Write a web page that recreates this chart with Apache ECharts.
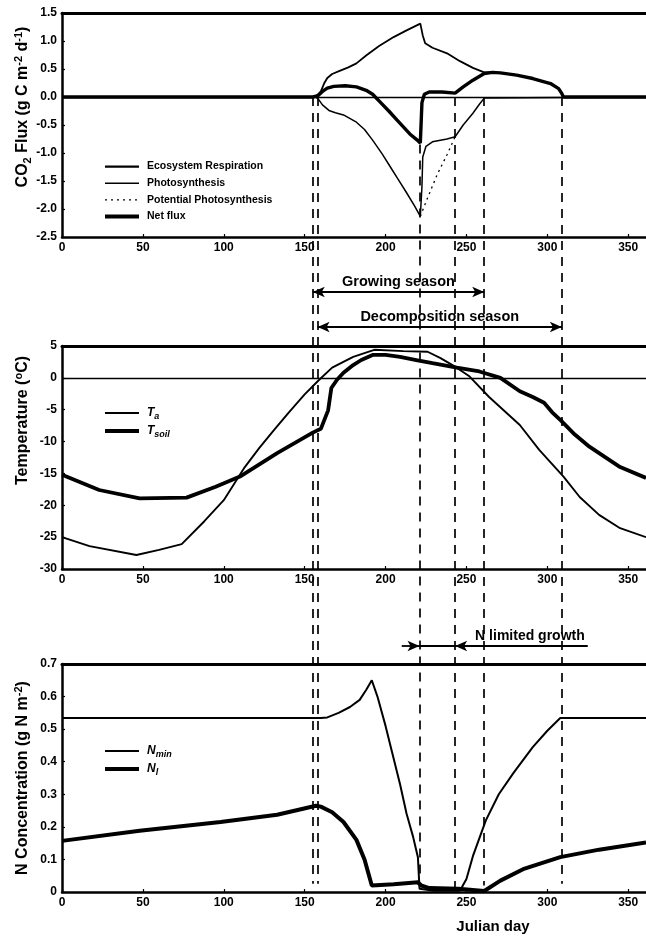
<!DOCTYPE html>
<html>
<head>
<meta charset="utf-8">
<script src="https://cdn.jsdelivr.net/npm/echarts@6/dist/echarts.min.js"></script>
<style>
html, body { margin: 0; padding: 0; background: #fff; }
#chart { width: 646px; height: 939px; }
</style>
</head>
<body>
<div id="chart"></div>
<script>
// ---- data: [Julian day, value] ----
var respiration = [[0,0],[155,0],[158,0.04],[160,0.1],[162,0.24],[164,0.34],[167,0.41],[172,0.47],[177,0.53],[182,0.6],[188,0.74],[196,0.91],[205,1.07],[213,1.19],[221.5,1.31],[223,1.1],[224.5,0.96],[229,0.88],[238,0.78],[246,0.64],[254,0.52],[261,0.44],[266,0.44],[271,0.43],[281,0.39],[291,0.33],[302,0.24],[307,0.15],[309,0.06],[310,0],[361,0]];
var photosynthesis = [[0,0],[157,0],[159,-0.06],[161,-0.14],[165,-0.24],[169,-0.28],[174,-0.32],[182,-0.45],[187,-0.58],[192,-0.77],[198,-1.02],[203,-1.25],[208,-1.48],[213,-1.71],[218,-1.95],[221.5,-2.13],[222.5,-1.6],[223,-1.07],[225,-0.88],[229,-0.8],[238,-0.75],[243,-0.71],[248,-0.5],[254,-0.29],[258,-0.13],[261,-0.02],[262,0],[361,0]];
var potentialPhoto = [[221.5,-2.13],[226,-1.8],[232,-1.38],[238,-1.03],[243,-0.71]];
var netFlux = [[0,0],[155,0],[158,0.02],[161,0.1],[164,0.16],[168,0.19],[175,0.2],[182,0.18],[188,0.12],[192,0.05],[197,-0.1],[202,-0.25],[207,-0.41],[215,-0.66],[220,-0.78],[221.5,-0.82],[222.5,-0.1],[224,0.05],[227,0.09],[235,0.09],[243,0.07],[248,0.18],[254,0.3],[261,0.42],[266,0.44],[271,0.43],[281,0.39],[291,0.33],[302,0.24],[307,0.15],[309,0.06],[310,0],[361,0]];

var airTemp = [[0,-25.0],[17,-26.4],[46,-27.8],[60,-27.0],[74,-26.1],[88,-22.5],[100,-19.2],[113,-14],[122,-11],[131,-8.2],[140,-5.5],[150,-2.6],[159,-0.3],[167,1.6],[180,3.3],[193,4.4],[211,4.2],[226,4.1],[234,3.1],[244,1.6],[252,0.2],[264,-3],[283,-7.4],[295,-11.3],[310,-15.5],[320,-18.7],[332,-21.5],[345,-23.6],[361,-25.0]];
var soilTemp = [[0,-15.2],[23,-17.6],[48,-18.9],[77,-18.8],[95,-17.1],[110,-15.5],[133,-11.8],[155,-8.6],[160,-8.0],[164.5,-5.1],[166.5,-1.6],[170,-0.3],[174,0.8],[180,2],[185,2.8],[192,3.6],[200,3.6],[209,3.3],[219,2.8],[229,2.3],[244,1.6],[258,1.0],[271,0],[283,-2.1],[291,-3.0],[298,-3.9],[303,-5.4],[308,-6.6],[317,-8.9],[326,-10.8],[345,-14],[361,-15.7]];

var nMineral = [[0,0.534],[160,0.534],[164,0.536],[171,0.55],[178,0.568],[184,0.59],[188,0.62],[191.5,0.65],[195,0.6],[200,0.51],[205,0.41],[209,0.33],[213,0.24],[217,0.17],[220,0.107],[221,0.01],[230,0.004],[246,0.004],[250,0.04],[254,0.11],[262,0.22],[270,0.3],[279,0.365],[291,0.445],[300,0.495],[308,0.534],[361,0.534]];
var nLeaf = [[0,0.157],[48,0.188],[98,0.215],[133,0.237],[157,0.265],[160,0.262],[167,0.245],[174,0.215],[182,0.16],[187,0.1],[191.5,0.02],[205,0.024],[220,0.03],[222,0.02],[227,0.012],[245,0.01],[261,0.003],[271,0.035],[285,0.07],[308,0.107],[332,0.13],[361,0.152]];

// season boundaries (Julian day) drawn as dashed verticals
var seasonDays = [155, 158, 221, 243, 261, 309];
var growingSeason = [155, 261];
var decompSeason = [158, 309];
var nLimited = [221, 243];

// ---- layout ----
var FONT = '"Liberation Sans", Arial, Helvetica, sans-serif';
var LEFT = 62, RIGHT = 0;
var grids = [
  { left: LEFT, right: RIGHT, top: 13, height: 224 },
  { left: LEFT, right: RIGHT, top: 346, height: 223 },
  { left: LEFT, right: RIGHT, top: 664, height: 228 },
  { left: LEFT, right: RIGHT, top: 0, height: 939 }   // overlay for annotations
];

// line widths per series (also used for the legend keys)
var widths = {
  'Ecosystem Respiration': 1.8, 'Photosynthesis': 1.5, 'Potential Photosynthesis': 1.3, 'Net flux': 3.4,
  Ta: 1.9, Tsoil: 3.8, Nmin: 2, Nl: 4
};
var legendWidths = {
  'Ecosystem Respiration': 2.4, 'Photosynthesis': 1.4, 'Potential Photosynthesis': 1.2, 'Net flux': 4,
  Ta: 1.8, Tsoil: 4, Nmin: 1.8, Nl: 4
};

function bottomX(gi, extra) {
  var a = {
    type: 'value', gridIndex: gi, min: 0, max: 361, interval: 50, position: 'bottom',
    axisLine: { onZero: false, lineStyle: { color: '#000', width: 2.5 } },
    axisTick: { inside: true, length: 3, lineStyle: { color: '#000', width: 1.2 } },
    axisLabel: { color: '#000', fontFamily: FONT, fontWeight: 'bold', fontSize: 12, margin: 5, showMaxLabel: false },
    splitLine: { show: false }
  };
  return Object.assign(a, extra || {});
}
function topX(gi) {
  return {
    type: 'value', gridIndex: gi, min: 0, max: 361, position: 'top',
    axisLine: { onZero: false, lineStyle: { color: '#000', width: 3 } },
    axisTick: { show: false }, axisLabel: { show: false }, splitLine: { show: false }
  };
}
function leftY(gi, min, max, step, fmt, name, nameRich, namePad) {
  return {
    type: 'value', gridIndex: gi, min: min, max: max, interval: step,
    axisLine: { show: true, onZero: false, lineStyle: { color: '#000', width: 2.5 } },
    axisTick: { show: true, inside: true, length: 3, lineStyle: { color: '#000', width: 1.2 } },
    axisLabel: { color: '#000', fontFamily: FONT, fontWeight: 'bold', fontSize: 12, margin: 5, formatter: fmt },
    splitLine: { show: false },
    name: name, nameLocation: 'middle', nameGap: 29, nameMoveOverlap: false,
    nameTextStyle: { color: '#000', padding: namePad, rich: nameRich }
  };
}

var nameRich = {
  a: { fontFamily: FONT, fontWeight: 'bold', fontSize: 16, color: '#000' },
  b: { fontFamily: FONT, fontWeight: 'bold', fontSize: 11, color: '#000', padding: [9, 0, 0, 0] },
  c: { fontFamily: FONT, fontWeight: 'bold', fontSize: 11, color: '#000', padding: [0, 0, 9, 0] }
};

var zeroLine = {
  silent: true, symbol: 'none', animation: false,
  label: { show: false },
  lineStyle: { color: '#000', width: 1.3, type: 'solid' },
  data: [{ yAxis: 0 }]
};

function lineSeries(name, data, xi, yi, type, extra) {
  var s = {
    name: name, type: 'line', data: data, xAxisIndex: xi, yAxisIndex: yi,
    symbol: 'none', showSymbol: false, smooth: false,
    lineStyle: { color: '#000', width: widths[name], type: type || 'solid' },
    itemStyle: { color: '#000' }
  };
  return Object.assign(s, extra || {});
}

var legendNames = {
  Ta: '{i|T}{s|a}', Tsoil: '{i|T}{s|soil}', Nmin: '{i|N}{s|min}', Nl: '{i|N}{s|l}'
};
var legendRich = {
  i: { fontFamily: FONT, fontStyle: 'italic', fontWeight: 'bold', fontSize: 12, color: '#000' },
  s: { fontFamily: FONT, fontStyle: 'italic', fontWeight: 'bold', fontSize: 9, color: '#000', padding: [7, 0, 0, 0] }
};
function legend(names, top, gap, rich) {
  return {
    data: names.map(function (n) {
      return { name: n, lineStyle: { width: legendWidths[n], color: '#000' } };
    }),
    orient: 'vertical', left: 98, top: top,
    itemWidth: 34, itemHeight: 14, itemGap: gap, selectedMode: false,
    itemStyle: { opacity: 0, borderWidth: 0 },
    formatter: rich ? function (n) { return legendNames[n]; } : null,
    textStyle: { fontFamily: FONT, fontWeight: 'bold', fontSize: 10.5, color: '#000', padding: [0, 0, 0, 3], rich: rich ? legendRich : undefined }
  };
}

var option = {
  animation: false,
  backgroundColor: '#fff',
  grid: grids,
  legend: [
    legend(['Ecosystem Respiration', 'Photosynthesis', 'Potential Photosynthesis', 'Net flux'], 156, 5.4, false),
    legend(['Ta', 'Tsoil'], 402, 4, true),
    legend(['Nmin', 'Nl'], 740, 4, true)
  ],
  xAxis: [
    bottomX(0), topX(0),
    bottomX(1), topX(1),
    bottomX(2, {
      name: 'Julian day', nameLocation: 'middle', nameGap: 27,
      nameTextStyle: { color: '#000', fontFamily: FONT, fontWeight: 'bold', fontSize: 15, padding: [0, 0, 0, 278] }
    }), topX(2),
    { type: 'value', gridIndex: 3, min: 0, max: 361, show: false }
  ],
  yAxis: [
    leftY(0, -2.5, 1.5, 0.5, function (v) { return v.toFixed(1); },
      '{a|CO}{b|2}{a| Flux (g C m}{c|-2}{a| d}{c|-1}{a|)}', nameRich, [0, 0, 0, 36]),
    leftY(1, -30, 5, 5, function (v) { return String(v); },
      '{a|Temperature (}{c|o}{a|C)}', nameRich, [0, 0, 0, 74]),
    leftY(2, 0, 0.7, 0.1, function (v) { return v === 0 ? '0' : v.toFixed(1); },
      '{a|N Concentration (g N m}{c|-2}{a|)}', nameRich, [0, 0, 0, 0]),
    { type: 'value', gridIndex: 3, min: 0, max: 939, inverse: true, show: false }
  ],
  series: [
    lineSeries('Ecosystem Respiration', respiration, 0, 0, 'solid', { markLine: zeroLine }),
    lineSeries('Photosynthesis', photosynthesis, 0, 0),
    lineSeries('Potential Photosynthesis', potentialPhoto, 0, 0, [2, 4]),
    lineSeries('Net flux', netFlux, 0, 0),
    lineSeries('Ta', airTemp, 2, 1, 'solid', { markLine: zeroLine }),
    lineSeries('Tsoil', soilTemp, 2, 1),
    lineSeries('Nmin', nMineral, 4, 2),
    lineSeries('Nl', nLeaf, 4, 2),
    { id: 'annot', type: 'line', data: [], xAxisIndex: 6, yAxisIndex: 3, symbol: 'none' }
  ]
};

var chart = echarts.init(document.getElementById('chart'));
chart.setOption(option);

// ---- annotations: rows taken from the panels' own scales ----
function row(axis, v) { return chart.convertToPixel({ yAxisIndex: axis }, v); }
var startFlux = [0, 0, -0.85, 0, 0, 0];
var endN = [0.025, 0.025, 0.05, 0.01, 0.02, 0.025];
var dashed = { color: '#000', width: 1.7, type: [9, 7] };
var solid = { color: '#000', width: 1.8, type: 'solid' };
var annotLabel = { show: true, color: '#000', fontFamily: FONT, fontWeight: 'bold', fontSize: 14.5, distance: 3 };

var marks = seasonDays.map(function (d, i) {
  return [
    { coord: [d, row(0, startFlux[i])], symbol: 'none', lineStyle: dashed, label: { show: false } },
    { coord: [d, row(2, endN[i])], symbol: 'none' }
  ];
});

var growRow = row(0, -2.5) + 55;
var decompRow = row(1, 5) - 19;
var nLimRow = row(2, 0.7) - 18;

marks.push([
  { coord: [growingSeason[0], growRow], symbol: 'arrow', lineStyle: solid,
    label: Object.assign({ formatter: 'Growing season', position: 'insideMiddleTop' }, annotLabel) },
  { coord: [growingSeason[1], growRow], symbol: 'arrow' }
]);
marks.push([
  { coord: [decompSeason[0], decompRow], symbol: 'arrow', lineStyle: solid,
    label: Object.assign({ formatter: 'Decomposition season', position: 'insideMiddleTop' }, annotLabel) },
  { coord: [decompSeason[1], decompRow], symbol: 'arrow' }
]);
marks.push([
  { coord: [210, nLimRow], symbol: 'none', lineStyle: solid, label: { show: false } },
  { coord: [nLimited[0], nLimRow], symbol: 'arrow' }
]);
marks.push([
  { coord: [nLimited[0], nLimRow], symbol: 'none', lineStyle: solid, label: { show: false } },
  { coord: [nLimited[1], nLimRow], symbol: 'none' }
]);
marks.push([
  { coord: [nLimited[1], nLimRow], symbol: 'arrow', lineStyle: solid,
    label: Object.assign({ formatter: 'N limited growth', position: 'insideEndTop' }, annotLabel, { fontSize: 14 }) },
  { coord: [325, nLimRow], symbol: 'none' }
]);

chart.setOption({
  series: [{
    id: 'annot',
    markLine: {
      silent: true, animation: false, symbolSize: [8, 12],
      label: { show: false },
      data: marks
    }
  }]
});
</script>
</body>
</html>
